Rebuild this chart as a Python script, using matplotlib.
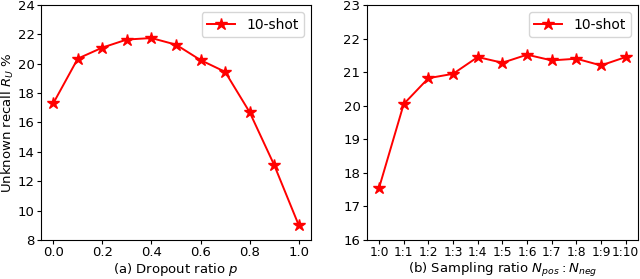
import numpy as np
import matplotlib.pyplot as plt

# =============================================================================
# DATA
# =============================================================================

dropout = [0.0, 0.1, 0.2, 0.3, 0.4, 0.5, 0.6, 0.7, 0.8, 0.9, 1.0]
recall_dropout = [17.3, 20.35, 21.1, 21.65, 21.75, 21.3, 20.25, 19.45, 16.7, 13.1, 9.0]

ratio_labels = ["1:0", "1:1", "1:2", "1:3", "1:4", "1:5", "1:6", "1:7", "1:8", "1:9", "1:10"]
recall_ratio = [17.55, 20.05, 20.82, 20.95, 21.45, 21.28, 21.52, 21.35, 21.4, 21.2, 21.45]

# =============================================================================
# PLOT
# =============================================================================

fig = plt.figure(figsize=(6.4, 2.79), dpi=100)
ax1 = fig.add_axes([0.064, 0.14, 0.422, 0.842])
ax2 = fig.add_axes([0.573, 0.14, 0.424, 0.842])

style = dict(color="red", marker="*", markersize=9, linewidth=1.4, label="10-shot")

ax1.plot(dropout, recall_dropout, **style)
ax1.set_ylim(8, 24)
ax1.set_yticks(np.arange(8, 25, 2))
ax1.set_xticks(dropout[::2])
ax1.set_xticklabels([f"{v:.1f}" for v in dropout[::2]])
ax1.set_xlim(-0.05, 1.05)
ax1.set_xlabel("(a) Dropout ratio $p$", fontsize=9.5, labelpad=1)
ax1.set_ylabel("Unknown recall $R_U$ %", fontsize=9.5, labelpad=1)

x = np.arange(len(ratio_labels))
ax2.plot(x, recall_ratio, **style)
ax2.set_ylim(16, 23)
ax2.set_xticks(x)
ax2.set_xticklabels(ratio_labels)
ax2.set_xlabel("(b) Sampling ratio $N_{pos}:N_{neg}$", fontsize=9.5, labelpad=1)

for ax in (ax1, ax2):
    ax.tick_params(labelsize=9.5, length=3, pad=1.5)
    ax.legend(loc="upper right", fontsize=10, handlelength=2, borderpad=0.4)

ax2.tick_params(axis="x", labelsize=8.8)

fig.savefig("out.png", dpi=100)
